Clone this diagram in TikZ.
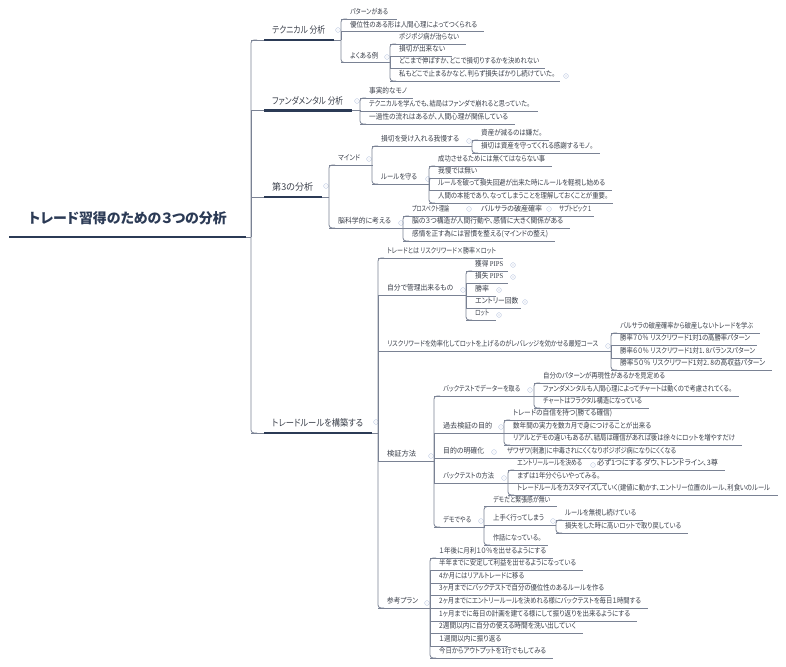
\documentclass[tikz,border=0pt]{standalone}
\usepackage{graphicx}
\usepackage{fontspec}
\setmainfont[RawFeature=+palt]{Noto Sans CJK JP}
\newfontfamily\pipsfont{Liberation Serif}
\definecolor{inkc}{HTML}{3A3F4A}
\definecolor{linec}{HTML}{7A8294}
\definecolor{darkc}{HTML}{2B3A55}
\definecolor{markc}{HTML}{BCC8E0}
\tikzset{
  leafnode/.style={anchor=south west,inner sep=0pt,minimum height=13pt,text=inkc,font=\fontsize{7.4}{9}\selectfont},
  mainnode/.style={anchor=south west,inner sep=0pt,minimum height=19pt,text=inkc,font=\fontsize{9.4}{11}\selectfont},
  rootnode/.style={anchor=south west,inner sep=0pt,minimum height=38pt,text=darkc,font=\fontsize{14}{16}\selectfont\bfseries},
  conn/.style={draw=linec,line width=0.8pt},
  heavy/.style={draw=darkc,line width=2.4pt},
  marker/.style={draw=markc,line width=0.4pt}
}
% squeeze or stretch a text sideways to a given width
\newsavebox\fitbox
\newcommand{\fitted}[2]{\sbox\fitbox{#2}\pgfmathsetmacro{\fitr}{#1/\the\wd\fitbox}\scalebox{\fitr}[1]{\usebox\fitbox}}
% [gap after text], name, x1, x2, y, text
\newcommand{\leafn}[6][7]{%
  \pgfmathsetmacro{\bw}{#4-#3}%
  \pgfmathsetmacro{\tw}{#4-#3-9-#1}%
  \node[leafnode,minimum width=\bw pt] (#2) at (#3,#5) {\makebox[\bw pt][l]{\hspace{9pt}\rule[-1pt]{0pt}{7pt}\fitted{\tw}{#6}}};
  \draw[conn] (#2.south west) -- (#2.south east);
}
\newcommand{\mainn}[5]{%
  \pgfmathsetmacro{\bw}{#3-#2}%
  \pgfmathsetmacro{\tw}{#3-#2-21-9}%
  \node[mainnode,minimum width=\bw pt] (#1) at (#2,#4) {\makebox[\bw pt][l]{\hspace{21pt}\rule[-1pt]{0pt}{9pt}\fitted{\tw}{#5}}};
  \draw[conn] (#1.south west) -- ([xshift=13pt]#1.south west);
  \draw[heavy] ([xshift=13pt]#1.south west) -- (#1.south east);
}
% curved end of a fork
\newcommand{\kidc}[2]{%
  \draw[conn] (#1.south east) -- (#1.south east -| #2.south west);
  \draw[conn,rounded corners=3pt] (#1.south east -| #2.south west) -- (#2.south west) -- ([xshift=6pt]#2.south west);
}
% middle of a fork
\newcommand{\kidt}[2]{%
  \draw[conn] (#1.south east) -- (#1.south east -| #2.south west);
  \draw[conn] (#1.south east -| #2.south west) -- (#2.south west);
}
\newcommand{\link}[2]{\draw[conn] (#1.south east) -- (#2.south west);}
\newcommand{\mn}[2]{\draw[marker] (#1,#2) circle (2.4pt) (#1-1.2,#2) -- (#1+1.2,#2);}
\newcommand{\pl}[2]{\draw[marker] (#1,#2) circle (2.4pt) (#1-1.2,#2) -- (#1+1.2,#2) (#1,#2-1.2) -- (#1,#2+1.2);}
\begin{document}
\begin{tikzpicture}[x=1pt,y=-1pt]
\useasboundingbox (0,0) rectangle (786,666);
% root
\node[rootnode,minimum width=237pt] (root) at (9,237) {\fitted{198}{トレード習得のための３つの分析}};
\draw[heavy] (root.south west) -- (root.south east);
% main
\mainn{tech}{251}{334}{40}{テクニカル 分析}
\mainn{fund}{251}{352}{110.5}{ファンダメンタル 分析}
\mainn{third}{251}{322}{197}{第3の分析}
\mainn{rule}{251}{372}{433}{トレードルールを構築する}
\kidc{root}{tech}\kidt{root}{fund}\kidt{root}{third}\kidc{root}{rule}
\mn{338}{30}\mn{357}{101}\mn{326}{186}\mn{376}{422}
% technical
\leafn[9]{t1}{341}{397}{19}{パターンがある}
\leafn{t2}{341}{484}{31.5}{優位性のある形は人間心理によってつくられる}
\leafn[12]{t3}{341}{390}{62.5}{よくある例}
\kidc{tech}{t1}\kidt{tech}{t2}\kidc{tech}{t3}
\mn{387}{57}
\leafn{t31}{390}{466}{44}{ポジポジ病が治らない}
\leafn{t32}{390}{452}{56}{損切が出来ない}
\leafn[6]{t33}{390}{545}{68}{どこまで伸ばすか、どこで損切りするかを決めれない}
\leafn[5]{t34}{390}{560}{81}{私もどこで止まるかなど、判らず損失ばかりし続けていた。}
\kidc{t3}{t31}\kidt{t3}{t32}\kidt{t3}{t33}\kidc{t3}{t34}
\pl{566}{76}
% fundamentals
\leafn[6]{f1}{360}{413}{98}{事実的なモノ}
\leafn[8]{f2}{360}{538}{111}{テクニカルを学んでも、結局はファンダで崩れると思っていた。}
\leafn{f3}{360}{515}{124}{一過性の流れはあるが、人間心理が関係している}
\kidc{fund}{f1}\kidt{fund}{f2}\kidc{fund}{f3}
% third
\leafn[12]{m}{329}{372}{165}{マインド}
\leafn[12]{b}{329}{403}{228}{脳科学的に考える}
\kidc{third}{m}\kidc{third}{b}
\mn{369}{159}\mn{401}{223}
\leafn[5]{m1}{372}{464}{146}{損切を受け入れる我慢する}
\leafn[6]{m2}{372}{423}{184}{ルールを守る}
\kidc{m}{m1}\kidc{m}{m2}
\mn{469}{141}\mn{428}{179}
\leafn{m11}{472}{549}{140}{資産が減るのは嫌だ。}
\leafn{m12}{472}{600}{153}{損切は資産を守ってくれる感謝するモノ。}
\kidc{m1}{m11}\kidc{m1}{m12}
\leafn{m21}{429}{552}{166}{成功させるためには無くてはならない事}
\leafn{m22}{429}{484}{178}{我慢では無い}
\leafn{m23}{429}{612}{190}{ルールを破って損失回避が出来た時にルールを軽視し始める}
\leafn[5]{m24}{429}{613}{203}{人間の本能であり、なってしまうことを理解しておくことが重要。}
\kidc{m2}{m21}\kidt{m2}{m22}\kidt{m2}{m23}\kidc{m2}{m24}
\leafn[15]{b1}{403}{464}{216}{プロスペクト理論}
\leafn[4]{b11}{472}{546}{216}{バルサラの破産確率}
\leafn[3]{b12}{550}{594}{216}{サブトピック 1}
\link{b1}{b11}\link{b11}{b12}
\mn{469}{209}\mn{549}{209}
\leafn{b2}{403}{570}{228}{脳の３つ構造が人間行動や、感情に大きく関係がある}
\leafn{b3}{403}{555}{241}{感情を正す為には習慣を整える(マインドの整え)}
\kidc{b}{b1}\kidt{b}{b2}\kidc{b}{b3}
% trade rules
\leafn{r1}{378}{503}{258}{トレードとは リスクリワード×勝率×ロット}
\leafn[13]{r2}{378}{466}{295}{自分で管理出来るもの}
\leafn[13]{r3}{378}{611}{351}{リスクリワードを効率化してロットを上げるのがレバレッジを効かせる最短コース}
\leafn[18]{r4}{378}{434}{461}{検証方法}
\leafn[12]{r5}{378}{430}{608}{参考プラン}
\kidc{rule}{r1}\kidt{rule}{r2}\kidt{rule}{r3}\kidt{rule}{r4}\kidc{rule}{r5}
\mn{463}{290}\mn{608}{346}\mn{431}{456}\mn{427}{603}
\leafn[5]{r21}{466}{508}{271}{獲得 {\pipsfont PIPS}}
\leafn[5]{r22}{466}{508}{283}{損失 {\pipsfont PIPS}}
\leafn{r23}{466}{496}{296}{勝率}
\leafn[3]{r24}{466}{521}{308}{エントリー回数}
\leafn{r25}{466}{496}{320}{ロット}
\kidc{r2}{r21}\kidt{r2}{r22}\kidt{r2}{r23}\kidt{r2}{r24}\kidc{r2}{r25}
\pl{513}{265}\pl{513}{277}\pl{499}{290}\pl{525}{302}\pl{499}{315}
\leafn{r31}{611}{760}{333}{バルサラの破産確率から破産しないトレードを学ぶ}
\leafn{r32}{611}{757}{345}{勝率７０％ リスクリワード1対1の高勝率パターン}
\leafn{r33}{611}{762}{358}{勝率６０％ リスクリワード1対1．8バランスパターン}
\leafn{r34}{611}{772}{370}{勝率５０％ リスクリワード1対2．8の高収益パターン}
\kidc{r3}{r31}\kidt{r3}{r32}\kidt{r3}{r33}\kidc{r3}{r34}
% verification
\leafn[14]{v1}{434}{534}{396}{バックテストでデーターを取る}
\leafn[12]{v2}{434}{504}{433}{過去検証の目的}
\leafn[6]{v3}{434}{490}{458}{目的の明確化}
\leafn[14]{v4}{434}{508}{483}{バックテストの方法}
\leafn[13]{v5}{434}{484}{527}{デモでやる}
\kidc{r4}{v1}\kidt{r4}{v2}\kidt{r4}{v3}\kidt{r4}{v4}\kidc{r4}{v5}
\mn{530}{390}\mn{501}{427}\mn{494}{452}\mn{504}{478}\mn{481}{521}
\leafn{v11}{534}{672}{383}{自分のパターンが再現性があるかを見定める}
\leafn{v12}{534}{739}{396}{ファンダメンタルも人間心理によってチャートは動くので考慮されてくる。}
\leafn{v13}{534}{649}{408}{チャートはフラクタル構造になっている}
\kidc{v1}{v11}\kidt{v1}{v12}\kidc{v1}{v13}
\leafn{v21}{504}{619}{420}{トレードの自信を持つ(勝てる確信)}
\leafn{v22}{504}{658}{433}{数年間の実力を数カ月で身につけることが出来る}
\leafn{v23}{504}{742}{445}{リアルとデモの違いもあるが、結局は確信があれば後は徐々にロットを増やすだけ}
\kidc{v2}{v21}\kidt{v2}{v22}\kidc{v2}{v23}
\leafn{v31}{498}{683}{458}{ザワザワ(刺激)に中毒されにくくなりポジポジ病になりにくくなる}
\link{v3}{v31}
\leafn[5]{v41}{508}{587}{470}{エントリールールを決める}
\leafn{v411}{588}{725}{470}{必ず1つにする ダウ、トレンドライン、3尊}
\link{v41}{v411}
\mn{593}{465}
\leafn{v42}{508}{607}{483}{まずは1年分ぐらいやってみる。}
\leafn[8]{v43}{508}{778}{495}{トレードルールをカスタマイズしていく(建値に動かす、エントリー位置のルール、利食いのルール}
\kidc{v4}{v41}\kidt{v4}{v42}\kidc{v4}{v43}
\leafn{v51}{484}{557}{506.5}{デモだと緊張感が無い}
\leafn[5]{v52}{484}{549}{525}{上手く行ってしまう}
\leafn{v53}{484}{548}{545}{作話になっている。}
\kidc{v5}{v51}\kidt{v5}{v52}\kidc{v5}{v53}
\mn{553}{521}
\leafn{v521}{556}{643}{520}{ルールを無視し続けている}
\leafn{v522}{556}{688}{533}{損失をした時に高いロットで取り戻している}
\kidc{v52}{v521}\kidc{v52}{v522}
% plan
\leafn{p1}{430}{553}{558}{１年後に月利１０％を出せるようにする}
\leafn{p2}{430}{583}{570}{半年までに安定して利益を出せるようになっている}
\leafn{p3}{430}{531}{583}{4か月にはリアルトレードに移る}
\leafn{p4}{430}{611}{595}{3ヶ月までにバックテストで自分の優位性のあるルールを作る}
\leafn{p5}{430}{648}{608}{2ヶ月までにエントリールールを決めれる様にバックテストを毎日１時間する}
\leafn{p6}{430}{637}{621}{1ヶ月までに毎日の計画を建てる様にして振り返りを出来るようにする}
\leafn{p7}{430}{583}{633}{2週間以内に自分の使える時間を洗い出していく}
\leafn{p8}{430}{508}{646}{１週間以内に振り返る}
\leafn{p9}{430}{553}{658}{今日からアウトプットを1行でもしてみる}
\kidc{r5}{p1}\kidt{r5}{p2}\kidt{r5}{p3}\kidt{r5}{p4}\kidt{r5}{p5}\kidt{r5}{p6}\kidt{r5}{p7}\kidt{r5}{p8}\kidc{r5}{p9}
\end{tikzpicture}
\end{document}
